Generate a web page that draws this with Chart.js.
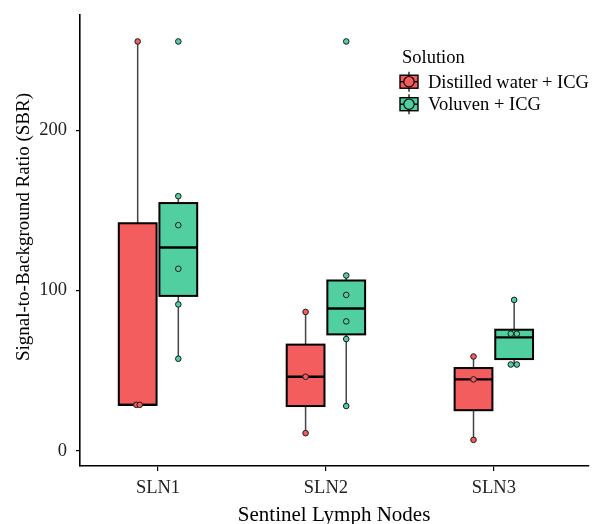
<!DOCTYPE html>
<html>
<head>
<meta charset="utf-8">
<script src="https://cdn.jsdelivr.net/npm/chart.js@4.4.1/dist/chart.umd.min.js"></script>
<style>
  html, body { margin: 0; padding: 0; background: #ffffff; }
  #wrap { width: 592px; height: 524px; position: relative; }
</style>
</head>
<body>
<div id="wrap"><canvas id="c" width="592" height="524"></canvas></div>
<script>
// ---- data ----
const categories = ['SLN1', 'SLN2', 'SLN3'];
const groups = ['Distilled water + ICG', 'Voluven + ICG'];
const yTicks = [0, 100, 200];

// box statistics per category (whisker low, Q1, median, Q3, whisker high)
const waterLow    = [28.75, 11.1, 6.9];
const waterQ1     = [28.75, 28.0, 25.4];
const waterMedian = [28.75, 46.3, 44.6];
const waterQ3     = [142.0, 66.3, 51.7];
const waterHigh   = [255.4, 86.7, 58.9];

const voluvenLow    = [57.5, 28.0, 53.5];
const voluvenQ1     = [96.7, 72.7, 57.3];
const voluvenMedian = [126.9, 88.8, 70.8];
const voluvenQ3     = [154.6, 106.3, 75.6];
const voluvenHigh   = [158.9, 109.4, 94.2];

// individual observations per category
const waterPoints = [
  [28.75, 28.75, 255.4],
  [11.1, 46.3, 86.7],
  [6.9, 44.6, 58.9]
];
const voluvenPoints = [
  [57.5, 91.4, 113.6, 140.8, 158.9, 255.4],
  [28.0, 69.8, 80.8, 97.3, 109.4, 255.4],
  [53.9, 53.9, 73.1, 73.1, 94.2]
];
// small horizontal jitter of the observations (category units)
const waterJitter = [
  [-0.008, 0.012, 0],
  [0, 0, 0],
  [0, 0, 0]
];
const voluvenJitter = [
  [0, 0, 0, 0, 0, 0],
  [0, 0, 0, 0, 0, 0],
  [-0.02, 0.016, -0.02, 0.016, 0]
];

// ---- styling ----
const colors = ['#F45D5D', '#52CFA1'];
const dodge = 0.121;
const halfBox = 0.1125;
const FONT = "'Liberation Serif', 'Times New Roman', serif";

const boxSets = [
  { low: waterLow, q1: waterQ1, med: waterMedian, q3: waterQ3, high: waterHigh },
  { low: voluvenLow, q1: voluvenQ1, med: voluvenMedian, q3: voluvenQ3, high: voluvenHigh }
];
const pointSets = [waterPoints, voluvenPoints];
const jitterSets = [waterJitter, voluvenJitter];
const offsets = [-dodge, dodge];

const datasets = groups.map((g, gi) => {
  const data = [];
  pointSets[gi].forEach((vals, ci) => {
    vals.forEach((v, k) => {
      data.push({ x: ci + 1 + offsets[gi] + jitterSets[gi][ci][k], y: v });
    });
  });
  return {
    label: g,
    data: data,
    backgroundColor: colors[gi],
    borderColor: '#1a1a1a',
    borderWidth: 1,
    pointRadius: 2.8,
    pointHoverRadius: 2.8
  };
});

const boxPlugin = {
  id: 'boxes',
  beforeDatasetsDraw(chart) {
    const ctx = chart.ctx;
    const xs = chart.scales.x, ys = chart.scales.y;
    boxSets.forEach((b, gi) => {
      categories.forEach((c, ci) => {
        const cx = xs.getPixelForValue(ci + 1 + offsets[gi]);
        const x0 = xs.getPixelForValue(ci + 1 + offsets[gi] - halfBox);
        const x1 = xs.getPixelForValue(ci + 1 + offsets[gi] + halfBox);
        const yLow = ys.getPixelForValue(b.low[ci]);
        const yQ1 = ys.getPixelForValue(b.q1[ci]);
        const yMed = ys.getPixelForValue(b.med[ci]);
        const yQ3 = ys.getPixelForValue(b.q3[ci]);
        const yHigh = ys.getPixelForValue(b.high[ci]);
        ctx.save();
        // whiskers
        ctx.strokeStyle = '#444444';
        ctx.lineWidth = 1.5;
        ctx.beginPath();
        ctx.moveTo(cx, yQ3); ctx.lineTo(cx, yHigh);
        ctx.moveTo(cx, yQ1); ctx.lineTo(cx, yLow);
        ctx.stroke();
        // box
        ctx.fillStyle = colors[gi];
        ctx.fillRect(x0, yQ3, x1 - x0, yQ1 - yQ3);
        ctx.strokeStyle = '#000000';
        ctx.lineWidth = 2;
        ctx.strokeRect(x0, yQ3, x1 - x0, yQ1 - yQ3);
        // median
        ctx.lineWidth = 2.4;
        ctx.beginPath();
        ctx.moveTo(x0, yMed); ctx.lineTo(x1, yMed);
        ctx.stroke();
        ctx.restore();
      });
    });
  },
  afterDraw(chart) {
    const ctx = chart.ctx;
    ctx.save();
    // y axis title
    ctx.fillStyle = '#000000';
    ctx.font = '19px ' + FONT;
    ctx.textAlign = 'center';
    ctx.textBaseline = 'alphabetic';
    ctx.translate(28.5, 227);
    ctx.rotate(-Math.PI / 2);
    ctx.fillText('Signal-to-Background Ratio (SBR)', 0, 0);
    ctx.restore();

    // legend
    ctx.save();
    ctx.fillStyle = '#000000';
    ctx.font = '18.5px ' + FONT;
    ctx.textAlign = 'left';
    ctx.textBaseline = 'middle';
    ctx.fillText('Solution', 402, 58);
    const keyX = 409;
    const keyYs = [81.7, 104.2];
    groups.forEach((g, gi) => {
      const ky = keyYs[gi];
      ctx.strokeStyle = '#000000';
      ctx.lineWidth = 1.2;
      ctx.beginPath();
      ctx.moveTo(keyX, ky - 10); ctx.lineTo(keyX, ky + 10);
      ctx.stroke();
      ctx.fillStyle = colors[gi];
      ctx.fillRect(keyX - 9, ky - 6.5, 18, 13);
      ctx.lineWidth = 1.4;
      ctx.strokeRect(keyX - 9, ky - 6.5, 18, 13);
      ctx.beginPath();
      ctx.moveTo(keyX - 9, ky); ctx.lineTo(keyX + 9, ky);
      ctx.stroke();
      ctx.beginPath();
      ctx.arc(keyX, ky, 5.2, 0, Math.PI * 2);
      ctx.fillStyle = colors[gi];
      ctx.fill();
      ctx.lineWidth = 1.2;
      ctx.stroke();
      ctx.fillStyle = '#000000';
      ctx.fillText(g, 428, ky + 1);
    });
    ctx.restore();
  }
};

new Chart(document.getElementById('c'), {
  type: 'scatter',
  data: { datasets: datasets },
  plugins: [boxPlugin],
  options: {
    responsive: false,
    animation: false,
    layout: { padding: { top: 15, left: 0, right: 0, bottom: 0 } },
    plugins: {
      legend: { display: false },
      tooltip: { enabled: false }
    },
    scales: {
      x: {
        type: 'linear',
        min: 0.5355,
        max: 3.562,
        afterFit(scale) { scale.height = 58; scale.paddingLeft = 0; scale.paddingRight = 0; },
        afterBuildTicks(scale) { scale.ticks = categories.map((c, i) => ({ value: i + 1 })); },
        grid: { drawOnChartArea: false, drawTicks: true, tickLength: 5, color: '#000000', lineWidth: 1.2 },
        border: { display: true, color: '#000000', width: 1.6 },
        ticks: {
          padding: 6,
          color: '#222222',
          font: { family: FONT, size: 18.5 },
          callback: (v) => categories[Math.round(v) - 1]
        },
        title: {
          display: true,
          text: 'Sentinel Lymph Nodes',
          color: '#000000',
          font: { family: FONT, size: 21 },
          padding: { top: 0, bottom: -4 }
        }
      },
      y: {
        min: -9.4,
        max: 271.9,
        afterFit(scale) { scale.width = 80; scale.paddingTop = 0; scale.paddingBottom = 0; },
        afterBuildTicks(scale) { scale.ticks = yTicks.map(v => ({ value: v })); },
        grid: { drawOnChartArea: false, drawTicks: true, tickLength: 4, color: '#000000', lineWidth: 1.2 },
        border: { display: true, color: '#000000', width: 1.6 },
        ticks: {
          padding: 9,
          color: '#222222',
          font: { family: FONT, size: 18.5 }
        }
      }
    }
  }
});
</script>
</body>
</html>
